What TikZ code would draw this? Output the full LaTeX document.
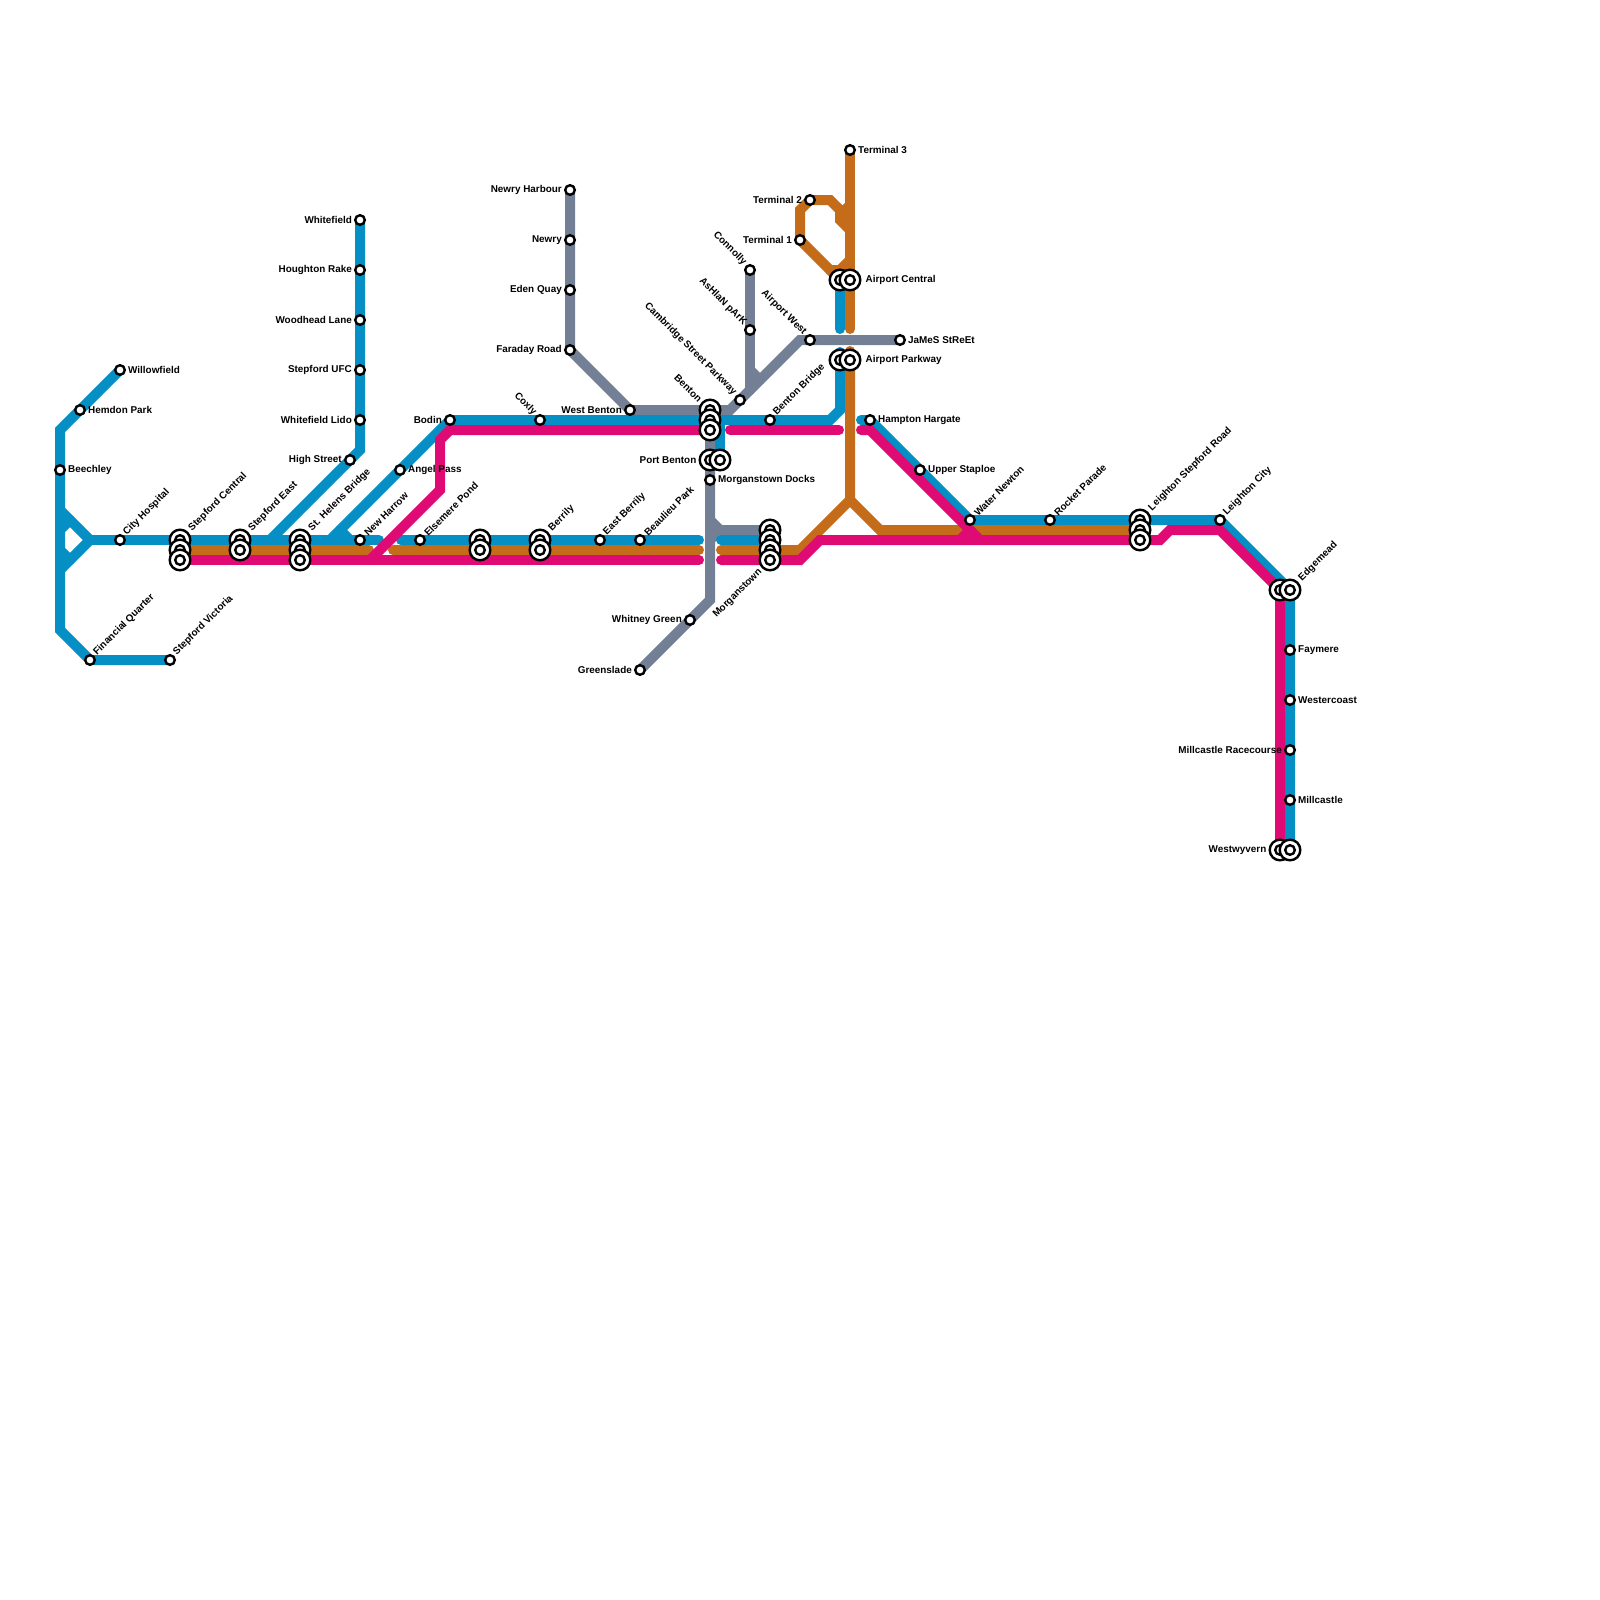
\documentclass[tikz,border=0pt]{standalone}
\usepackage{fontspec}
\setmainfont{Liberation Sans}
\pgfdeclarelayer{lines}
\pgfsetlayers{lines,main}

\begin{document}
\begin{tikzpicture}[
  x=0.5pt, y=-0.5pt,
  font=\bfseries\fontsize{4.95pt}{6pt}\selectfont,
  track/.style={line width=5pt, line cap=round, line join=miter},
  blueline/.style={track, draw={rgb,255:red,5;green,143;blue,197}},
  brownline/.style={track, draw={rgb,255:red,196;green,108;blue,26}},
  pinkline/.style={track, draw={rgb,255:red,223;green,10;blue,115}},
  greyline/.style={track, draw={rgb,255:red,115;green,127;blue,148}},
  stop/.style={circle, draw=black, fill=white, line width=1.2pt, inner sep=0pt, outer sep=0pt, minimum size=4.8pt},
  hub/.style={stop, minimum size=10.3pt, path picture={
    \draw[line width=1.2pt] (path picture bounding box.center) circle (2.4pt);}},
  lbl/.style={inner sep=0pt, text=black},
  lble/.style={lbl, anchor=west, xshift=1.5pt, yshift=0.15pt},
  lblw/.style={lbl, anchor=east, xshift=-1.5pt, yshift=0.15pt},
  lblne/.style={lbl, anchor=south west, xshift=2.5pt, yshift=-0.4pt, rotate=45},
  lblneh/.style={lbl, anchor=south west, xshift=3.2pt, yshift=-0.2pt, rotate=45},
  lblnw/.style={lbl, anchor=south east, xshift=-2.5pt, yshift=-0.3pt, rotate=-45},
  lblsw/.style={lbl, anchor=north east, xshift=-2.7pt, yshift=0.1pt, rotate=45},
]
  \useasboundingbox (0,0) rectangle (1600,1600);

  % west end
  \node[stop, label={[lble]0:Willowfield}] (willowfield) at (120,370) {};
  \node[stop, label={[lble]0:Hemdon Park}] (hemdon) at (80,410) {};
  \node[stop, label={[lble]0:Beechley}] (beechley) at (60,470) {};
  \node[stop, label={[lblne]45:City Hospital}] (cityhospital) at (120,540) {};
  \node[stop, label={[lblne]45:Financial Quarter}] (financial) at (90,660) {};
  \node[stop, label={[lblne]45:Stepford Victoria}] (victoria) at (170,660) {};
  \node[hub, label={[lblneh]45:Stepford Central}] (centrala) at (180,540) {};
  \node[hub] (centralb) at (180,550) {};
  \node[hub] (centralc) at (180,560) {};
  \node[hub, label={[lblneh]45:Stepford East}] (easta) at (240,540) {};
  \node[hub] (eastb) at (240,550) {};
  \node[hub, label={[lblneh]45:St. Helens Bridge}] (helensa) at (300,540) {};
  \node[hub] (helensb) at (300,550) {};
  \node[hub] (helensc) at (300,560) {};

  % whitefield branch
  \node[stop, label={[lblw]180:Whitefield}] (whitefield) at (360,220) {};
  \node[stop, label={[lblw]180:Houghton Rake}] (houghton) at (360,270) {};
  \node[stop, label={[lblw]180:Woodhead Lane}] (woodhead) at (360,320) {};
  \node[stop, label={[lblw]180:Stepford UFC}] (ufc) at (360,370) {};
  \node[stop, label={[lblw]180:Whitefield Lido}] (lido) at (360,420) {};
  \node[stop, label={[lblw]180:High Street}] (highstreet) at (350,460) {};

  % middle
  \node[stop, label={[lblne]45:New Harrow}] (newharrow) at (360,540) {};
  \node[stop, label={[lble]0:Angel Pass}] (angel) at (400,470) {};
  \node[stop, label={[lblw]180:Bodin}] (bodin) at (450,420) {};
  \node[stop, label={[lblne]45:Elsemere Pond}] (elsemere) at (420,540) {};
  \node[hub] (blanka) at (480,540) {};
  \node[hub] (blankb) at (480,550) {};
  \node[hub, label={[lblneh]45:Berrily}] (berrilya) at (540,540) {};
  \node[hub] (berrilyb) at (540,550) {};
  \node[stop, label={[lblne]45:East Berrily}] (eastberrily) at (600,540) {};
  \node[stop, label={[lblne]45:Beaulieu Park}] (beaulieu) at (640,540) {};
  \node[stop, label={[lblnw]135:Coxly}] (coxly) at (540,420) {};

  % grey north
  \node[stop, label={[lblw]180:Newry Harbour}] (harbour) at (570,190) {};
  \node[stop, label={[lblw]180:Newry}] (newry) at (570,240) {};
  \node[stop, label={[lblw]180:Eden Quay}] (eden) at (570,290) {};
  \node[stop, label={[lblw]180:Faraday Road}] (faraday) at (570,350) {};
  \node[stop, label={[lblw]180:West Benton}] (westbenton) at (630,410) {};
  \node[hub, label={[lblnw]135:Benton}] (bentona) at (710,410) {};
  \node[hub] (bentonb) at (710,420) {};
  \node[hub] (bentonc) at (710,430) {};
  \node[hub, label={[lblw]180:Port Benton}] (portbentona) at (710,460) {};
  \node[hub] (portbentonb) at (720,460) {};
  \node[stop, label={[lble]0:Morganstown Docks}] (docks) at (710,480) {};
  \node[stop, label={[lblw]180:Whitney Green}] (whitney) at (690,620) {};
  \node[stop, label={[lblw]180:Greenslade}] (greenslade) at (640,670) {};
  \node[stop, label={[lblnw]135:Cambridge Street Parkway}] (cambridge) at (740,400) {};
  \node[stop, label={[lblne]45:Benton Bridge}] (bentonbridge) at (770,420) {};
  \node[stop, label={[lblnw]135:AsHlaN pArK}] (ashlan) at (750,330) {};
  \node[stop, label={[lblnw]135:Connolly}] (connolly) at (750,270) {};
  \node[hub] (morgana) at (770,530) {};
  \node[hub] (morganb) at (770,540) {};
  \node[hub] (morganc) at (770,550) {};
  \node[hub, label={[lblsw]225:Morganstown}] (morgand) at (770,560) {};

  % airport
  \node[stop, label={[lble]0:Terminal 3}] (terminalc) at (850,150) {};
  \node[stop, label={[lblw]180:Terminal 2}] (terminalb) at (810,200) {};
  \node[stop, label={[lblw]180:Terminal 1}] (terminala) at (800,240) {};
  \node[hub] (centralairporta) at (840,280) {};
  \node[hub, label={[lble, xshift=1pt]0:Airport Central}] (centralairportb) at (850,280) {};
  \node[stop, label={[lblnw]135:Airport West}] (airportwest) at (810,340) {};
  \node[stop, label={[lble]0:JaMeS StReEt}] (james) at (900,340) {};
  \node[hub] (parkwaya) at (840,360) {};
  \node[hub, label={[lble, xshift=1pt]0:Airport Parkway}] (parkwayb) at (850,360) {};

  % east
  \node[stop, label={[lble]0:Hampton Hargate}] (hampton) at (870,420) {};
  \node[stop, label={[lble]0:Upper Staploe}] (staploe) at (920,470) {};
  \node[stop, label={[lblne]45:Water Newton}] (water) at (970,520) {};
  \node[stop, label={[lblne]45:Rocket Parade}] (rocket) at (1050,520) {};
  \node[hub, label={[lblneh]45:Leighton Stepford Road}] (stepfordrda) at (1140,520) {};
  \node[hub] (stepfordrdb) at (1140,530) {};
  \node[hub] (stepfordrdc) at (1140,540) {};
  \node[stop, label={[lblne]45:Leighton City}] (leighton) at (1220,520) {};
  \node[hub] (edgemeada) at (1280,590) {};
  \node[hub, label={[lblneh]45:Edgemead}] (edgemeadb) at (1290,590) {};
  \node[stop, label={[lble]0:Faymere}] (faymere) at (1290,650) {};
  \node[stop, label={[lble]0:Westercoast}] (westercoast) at (1290,700) {};
  \node[stop, label={[lblw]180:Millcastle Racecourse}] (racecourse) at (1290,750) {};
  \node[stop, label={[lble]0:Millcastle}] (millcastle) at (1290,800) {};
  \node[hub, label={[lblw]180:Westwyvern}] (westwyverna) at (1280,850) {};
  \node[hub] (westwyvernb) at (1290,850) {};

  \begin{pgfonlayer}{lines}
    % grey
    \draw[greyline] (harbour.center) -- (newry.center) -- (eden.center) -- (faraday.center)
      -- (westbenton.center) -- (730,410) -- (cambridge.center) -- (800,340) -- (james.center);
    \draw[greyline] (connolly.center) -- (ashlan.center) -- (750,390);
    \draw[greyline] (750,370) -- (760,380);
    \draw[greyline] (bentona.center) -- (docks.center) -- (710,600) -- (whitney.center) -- (greenslade.center);
    \draw[greyline] (710,520) -- (720,530) -- (morgana.center);
    \draw[greyline] (710,540) -- (720,530);
    % blue
    \draw[blueline] (willowfield.center) -- (hemdon.center) -- (60,430) -- (60,630) -- (financial.center) -- (victoria.center);
    \draw[blueline] (60,510) -- (90,540) -- (60,570);
    \draw[blueline] (60,530) -- (70,520);
    \draw[blueline] (60,550) -- (70,560);
    \draw[blueline] (90,540) -- (newharrow.center) -- (379,540);
    \draw[blueline] (whitefield.center) -- (lido.center) -- (360,450) -- (highstreet.center) -- (270,540);
    \draw[blueline] (bodin.center) -- (angel.center) -- (330,540);
    \draw[blueline] (340,530) -- (350,540) -- (newharrow.center);
    \draw[blueline] (401,540) -- (699,540);
    \draw[blueline] (721,540) -- (morganb.center);
    \draw[blueline] (bodin.center) -- (830,420) -- (840,410) -- (840,352);
    \draw[blueline] (portbentonb.center) -- (720,420);
    \draw[blueline] (centralairporta.center) -- (840,329);
    \draw[blueline] (861,420) -- (hampton.center) -- (staploe.center) -- (water.center)
      -- (rocket.center) -- (leighton.center) -- (edgemeadb.center) -- (westwyvernb.center);
    % brown
    \draw[brownline] (centralb.center) -- (369,550);
    \draw[brownline] (393,550) -- (699,550);
    \draw[brownline] (721,550) -- (800,550) -- (850,500) -- (850,351);
    \draw[brownline] (850,500) -- (880,530) -- (stepfordrdb.center);
    \draw[brownline] (terminalc.center) -- (850,329);
    \draw[brownline] (terminala.center) -- (800,210) -- (terminalb.center) -- (830,200) -- (840,210) -- (840,220) -- (850,230);
    \draw[brownline] (850,205) -- (840,215);
    \draw[brownline] (terminala.center) -- (830,270) -- (840,270) -- (850,260);
    \draw[brownline] (830,270) -- (centralairporta.center);
    % pink
    \draw[pinkline] (centralc.center) -- (699,560);
    \draw[pinkline] (370,560) -- (440,490) -- (440,440) -- (450,430) -- (bentonc.center);
    \draw[pinkline] (730,430) -- (839,430);
    \draw[pinkline] (861,430) -- (870,430) -- (970,530) -- (980,540);
    \draw[pinkline] (970,530) -- (960,540);
    \draw[pinkline] (721,560) -- (800,560) -- (820,540) -- (1160,540) -- (1170,530) -- (1220,530) -- (edgemeada.center) -- (westwyverna.center);
  \end{pgfonlayer}
\end{tikzpicture}
\end{document}
